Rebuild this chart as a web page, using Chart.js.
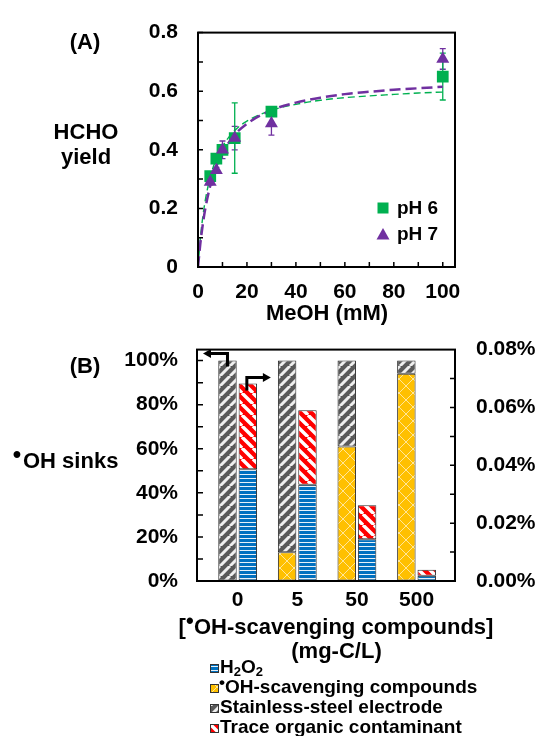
<!DOCTYPE html>
<html><head><meta charset="utf-8">
<script src="https://cdn.jsdelivr.net/npm/chart.js@4.4.1/dist/chart.umd.min.js"></script>
<style>
html,body{margin:0;padding:0;background:#fff;}
#wrap{position:relative;width:541px;height:736px;overflow:hidden;}
canvas{position:absolute;left:0;}
#cA{top:0;}
#cB{top:316px;}
</style></head><body>
<div id="wrap"><canvas id="cA" width="541" height="336"></canvas><canvas id="cB" width="541" height="420"></canvas></div>
<script>
// ---------- Panel A data ----------
const meohX = [5, 7.5, 10, 15, 30, 100];
const ph6Yield = [0.31, 0.37, 0.40, 0.44, 0.53, 0.65];
const ph6Err = [0.015, 0.01, 0.01, 0.12, 0.01, 0.08];
const ph7Yield = [0.29, 0.33, 0.40, 0.44, 0.49, 0.71];
const ph7Err = [0.01, 0.01, 0.03, 0.04, 0.04, 0.035];
const fitX = [0, 1, 2, 3, 5, 7.5, 10, 15, 20, 30, 40, 50, 60, 70, 80, 90, 100];
const ph6Fit = [0, 0.101, 0.174, 0.229, 0.307, 0.370, 0.412, 0.466, 0.498, 0.535, 0.555, 0.569, 0.578, 0.584, 0.589, 0.594, 0.597];
const ph7Fit = [0, 0.083, 0.148, 0.200, 0.277, 0.343, 0.389, 0.451, 0.489, 0.535, 0.561, 0.578, 0.590, 0.598, 0.605, 0.610, 0.615];
const xTicksA = [0, 20, 40, 60, 80, 100];
const yTicksA = [0, 0.2, 0.4, 0.6, 0.8];

// ---------- Panel B data ----------
const scavCategories = ['0', '5', '50', '500'];
const scavengerShare = [0, 13, 61, 94];      // % (left axis)
const steelShare = [100, 87, 39, 6];         // % (left axis)
const h2o2Share = [0.0386, 0.0333, 0.0144, 0.0018];   // % (right axis)
const traceShare = [0.0297, 0.0257, 0.0118, 0.0021];  // % (right axis)
const leftTicksB = [0, 20, 40, 60, 80, 100];
const rightTicksB = [0, 0.02, 0.04, 0.06, 0.08];

const FONT = "'Liberation Sans', Arial, Helvetica, sans-serif";
Chart.defaults.font.family = FONT;
Chart.defaults.font.weight = 'bold';
Chart.defaults.color = '#000';
const GREEN = '#00B050', PURPLE = '#7030A0';

function txt(ctx, s, x, y, size, align, base) {
  ctx.font = 'bold ' + size + 'px ' + FONT;
  ctx.textAlign = align || 'center';
  ctx.textBaseline = base || 'middle';
  ctx.fillStyle = '#000';
  ctx.fillText(s, x, y);
}

// ---------- patterns ----------
function makeTile(w, h, draw) {
  const c = document.createElement('canvas'); c.width = w; c.height = h;
  const g = c.getContext('2d'); draw(g, w, h);
  return document.createElement('canvas').getContext('2d').createPattern(c, 'repeat');
}
function stripes(bg, fg, size, lw, dir) {
  return makeTile(size, size, (g, w) => {
    g.fillStyle = bg; g.fillRect(0, 0, w, w);
    g.strokeStyle = fg; g.lineWidth = lw;
    g.beginPath();
    for (const k of [-w, 0, w]) {
      if (dir === '/') { g.moveTo(k, w); g.lineTo(k + w, 0); }
      else { g.moveTo(k, 0); g.lineTo(k + w, w); }
    }
    g.stroke();
  });
}
const patSteel = stripes('#595959', 'rgba(255,255,255,0.9)', 10, 3, '/');
const patTrace = stripes('#ff0000', '#ffffff', 11, 3.4, '\\');
const patH2O2 = makeTile(6, 4, (g, w, h) => {
  g.fillStyle = '#0070c0'; g.fillRect(0, 0, w, h);
  g.fillStyle = 'rgba(255,255,255,0.9)'; g.fillRect(0, 2, w, 1);
});
const patScav = makeTile(14, 14, (g, w) => {
  g.fillStyle = '#ffc000'; g.fillRect(0, 0, w, w);
  g.strokeStyle = 'rgba(255,255,255,0.6)'; g.lineWidth = 1;
  g.beginPath();
  for (const k of [-w, 0, w]) { g.moveTo(k, w); g.lineTo(k + w, 0); g.moveTo(k, 0); g.lineTo(k + w, w); }
  g.stroke();
});

// ---------- Panel A ----------
const panelAPlugin = {
  id: 'panelA',
  beforeDatasetsDraw(chart) {
    const { ctx, scales: { x, y } } = chart;
    chart.data.datasets.forEach(ds => {
      if (!ds.errs) return;
      ctx.save(); ctx.strokeStyle = ds.backgroundColor; ctx.lineWidth = 1.3;
      ds.data.forEach((p, i) => {
        const px = x.getPixelForValue(p.x);
        const t = y.getPixelForValue(p.y + ds.errs[i]), b = y.getPixelForValue(p.y - ds.errs[i]);
        ctx.beginPath();
        ctx.moveTo(px, t); ctx.lineTo(px, b);
        ctx.moveTo(px - 3, t); ctx.lineTo(px + 3, t);
        ctx.moveTo(px - 3, b); ctx.lineTo(px + 3, b);
        ctx.stroke();
      });
      ctx.restore();
    });
  },
  afterDraw(chart) {
    const { ctx, chartArea: a, scales: { x, y } } = chart;
    ctx.save();
    ctx.strokeStyle = '#000'; ctx.lineWidth = 2;
    ctx.strokeRect(a.left, a.top, a.right - a.left, a.bottom - a.top);
    ctx.lineWidth = 1.5;
    ctx.beginPath();
    for (let v = 10; v <= 100; v += 10) { const px = x.getPixelForValue(v); ctx.moveTo(px, a.bottom); ctx.lineTo(px, a.bottom - 5); }
    for (let v = 0.1; v < 0.8; v += 0.1) { const py = y.getPixelForValue(v); ctx.moveTo(a.left, py); ctx.lineTo(a.left + 5, py); }
    ctx.stroke();
    txt(ctx, '(A)', 85, 43, 22);
    txt(ctx, 'HCHO', 86, 133, 22);
    txt(ctx, 'yield', 86, 158, 22);
    txt(ctx, 'MeOH (mM)', 327, 314, 22);
    // legend
    ctx.fillStyle = GREEN; ctx.fillRect(377.5, 202.5, 11, 11);
    ctx.fillStyle = PURPLE; ctx.beginPath(); ctx.moveTo(383, 228); ctx.lineTo(389.5, 239.5); ctx.lineTo(376.5, 239.5); ctx.closePath(); ctx.fill();
    txt(ctx, 'pH 6', 397, 209, 19, 'left');
    txt(ctx, 'pH 7', 397, 235, 19, 'left');
    ctx.restore();
  }
};

new Chart(document.getElementById('cA'), {
  type: 'scatter',
  data: {
    datasets: [
      { label: 'pH 7', data: meohX.map((x, i) => ({ x, y: ph7Yield[i] })), pointStyle: 'triangle', pointRadius: 7.5,
        backgroundColor: PURPLE, borderColor: PURPLE, borderWidth: 0, order: 0, errs: ph7Err },
      { label: 'pH 6', data: meohX.map((x, i) => ({ x, y: ph6Yield[i] })), pointStyle: 'rect', pointRadius: 8.3,
        backgroundColor: GREEN, borderColor: GREEN, borderWidth: 0, order: 1, errs: ph6Err },
      { label: 'pH 7 fit', data: fitX.map((x, i) => ({ x, y: ph7Fit[i] })), showLine: true, pointRadius: 0,
        borderColor: PURPLE, backgroundColor: PURPLE, borderWidth: 2.5, borderDash: [11, 5], cubicInterpolationMode: 'monotone', order: 2 },
      { label: 'pH 6 fit', data: fitX.map((x, i) => ({ x, y: ph6Fit[i] })), showLine: true, pointRadius: 0,
        borderColor: GREEN, backgroundColor: GREEN, borderWidth: 1.4, borderDash: [7, 4], cubicInterpolationMode: 'monotone', order: 3 }
    ]
  },
  options: {
    responsive: false, animation: false,
    layout: { padding: { left: 0, right: 86, top: 24, bottom: 0 } },
    plugins: { legend: { display: false }, tooltip: { enabled: false } },
    scales: {
      x: {
        type: 'linear', min: 0, max: 105,
        afterBuildTicks: s => { s.ticks = xTicksA.map(v => ({ value: v })); },
        afterFit: s => { s.height = 336 - 267; },
        grid: { display: true, drawOnChartArea: false, drawTicks: false },
        border: { display: false },
        ticks: { padding: 13, maxRotation: 0, color: '#000', font: { size: 21, weight: 'bold' } }
      },
      y: {
        min: 0, max: 0.8,
        afterBuildTicks: s => { s.ticks = yTicksA.map(v => ({ value: v })); },
        afterFit: s => { s.width = 198; },
        grid: { display: true, drawOnChartArea: false, drawTicks: false },
        border: { display: false },
        ticks: { padding: 20, color: '#000', font: { size: 21, weight: 'bold' } }
      }
    }
  },
  plugins: [panelAPlugin]
});

// ---------- Panel B ----------
function arrowHead(ctx, tipX, tipY, dir) {
  ctx.beginPath();
  ctx.moveTo(tipX, tipY);
  ctx.lineTo(tipX - dir * 8, tipY - 4.5);
  ctx.lineTo(tipX - dir * 8, tipY + 4.5);
  ctx.closePath(); ctx.fill();
}
function legendBox(ctx, x, y, pat) {
  ctx.fillStyle = pat; ctx.fillRect(x, y, 8, 8);
  ctx.strokeStyle = '#333'; ctx.lineWidth = 1; ctx.strokeRect(x + 0.5, y + 0.5, 8, 8);
}
const panelBPlugin = {
  id: 'panelB',
  afterDraw(chart) {
    const { ctx, chartArea: a, scales: { y, y2 } } = chart;
    ctx.save();
    ctx.strokeStyle = '#000'; ctx.lineWidth = 2;
    ctx.strokeRect(a.left, a.top, a.right - a.left, a.bottom - a.top);
    ctx.lineWidth = 1.5;
    ctx.beginPath();
    for (let v = 10; v <= 100; v += 10) { const py = y.getPixelForValue(v); ctx.moveTo(a.left, py); ctx.lineTo(a.left + 6, py); }
    for (let v = 0.01; v < 0.08; v += 0.01) { const py = y2.getPixelForValue(v); ctx.moveTo(a.right, py); ctx.lineTo(a.right - 5, py); }
    ctx.stroke();

    // arrows pointing to the axis each bar group is read on
    const steelBar = chart.getDatasetMeta(1).data[0];
    const traceBar = chart.getDatasetMeta(3).data[0];
    ctx.strokeStyle = '#000'; ctx.fillStyle = '#000'; ctx.lineWidth = 3; ctx.lineJoin = 'miter';
    let bx = steelBar.x, by = steelBar.y;
    ctx.beginPath(); ctx.moveTo(bx, by + 6); ctx.lineTo(bx, by - 7); ctx.lineTo(a.left + 12, by - 7); ctx.stroke();
    arrowHead(ctx, a.left + 6, by - 7, -1);
    bx = traceBar.x - 1; by = traceBar.y;
    ctx.beginPath(); ctx.moveTo(bx, by + 7); ctx.lineTo(bx, by - 6); ctx.lineTo(bx + 17, by - 6); ctx.stroke();
    arrowHead(ctx, bx + 24, by - 6, 1);

    // texts
    txt(ctx, '(B)', 85, 367 - 316, 22);
    txt(ctx, '•', 17, 456 - 316 - 1, 24);
    txt(ctx, 'OH sinks', 23, 462 - 316, 22, 'left');
    ctx.font = 'bold 22px ' + FONT;
    const p1 = '[', p3 = 'OH-scavenging compounds]';
    const w1 = ctx.measureText(p1).width, w3 = ctx.measureText(p3).width, w2 = 8;
    let sx = 336 - (w1 + w2 + w3) / 2, ty = 628 - 316;
    txt(ctx, p1, sx, ty, 22, 'left');
    txt(ctx, '•', sx + w1 + w2 / 2, ty - 6, 22, 'center');
    txt(ctx, p3, sx + w1 + w2, ty, 22, 'left');
    txt(ctx, '(mg-C/L)', 336.5, 652 - 316, 22);

    // legend
    const lx = 210, tx = 220;
    const rows = [668, 688, 708, 728].map(v => v - 316);
    legendBox(ctx, lx, rows[0] - 4, patH2O2);
    ctx.font = 'bold 19px ' + FONT;
    let cx = tx;
    txt(ctx, 'H', cx, rows[0], 19, 'left'); cx += ctx.measureText('H').width;
    txt(ctx, '2', cx, rows[0] + 4, 13, 'left'); ctx.font = 'bold 13px ' + FONT; cx += ctx.measureText('2').width;
    txt(ctx, 'O', cx, rows[0], 19, 'left'); ctx.font = 'bold 19px ' + FONT; cx += ctx.measureText('O').width;
    txt(ctx, '2', cx, rows[0] + 4, 13, 'left');
    legendBox(ctx, lx, rows[1] - 4, patScav);
    txt(ctx, '•', tx + 2, rows[1] - 5, 17, 'center');
    txt(ctx, 'OH-scavenging compounds', tx + 5, rows[1], 19, 'left');
    legendBox(ctx, lx, rows[2] - 4, patSteel);
    txt(ctx, 'Stainless-steel electrode', tx, rows[2], 19, 'left');
    legendBox(ctx, lx, rows[3] - 4, patTrace);
    txt(ctx, 'Trace organic contaminant', tx, rows[3], 19, 'left');
    ctx.restore();
  }
};

const idx = scavCategories.map((c, i) => i);
new Chart(document.getElementById('cB'), {
  type: 'bar',
  data: {
    datasets: [
      { label: '•OH-scavenging compounds', data: idx.map(i => ({ x: i, y: scavengerShare[i] })), backgroundColor: patScav, stack: 'L', yAxisID: 'y' },
      { label: 'Stainless-steel electrode', data: idx.map(i => ({ x: i, y: steelShare[i] })), backgroundColor: patSteel, stack: 'L', yAxisID: 'y' },
      { label: 'H2O2', data: idx.map(i => ({ x: i, y: h2o2Share[i] })), backgroundColor: patH2O2, stack: 'R', yAxisID: 'y2' },
      { label: 'Trace organic contaminant', data: idx.map(i => ({ x: i, y: traceShare[i] })), backgroundColor: patTrace, stack: 'R', yAxisID: 'y2' }
    ]
  },
  options: {
    responsive: false, animation: false,
    datasets: { bar: { categoryPercentage: 0.683, barPercentage: 0.906, borderWidth: 1, borderColor: '#2a2a2a', borderSkipped: false } },
    layout: { padding: { left: 0, right: 0, top: 25, bottom: 0 } },
    plugins: { legend: { display: false }, tooltip: { enabled: false } },
    scales: {
      x: {
        type: 'linear', min: -0.682, max: 3.645, offset: false, stacked: true,
        afterBuildTicks: s => { s.ticks = idx.map(v => ({ value: v })); },
        afterFit: s => { s.height = 420 - 265; },
        grid: { display: true, drawOnChartArea: false, drawTicks: false },
        border: { display: false },
        ticks: { padding: 7, maxRotation: 0, color: '#000', font: { size: 21, weight: 'bold' },
                 callback: v => scavCategories[v] }
      },
      y: {
        position: 'left', min: 0, max: 105, stacked: true,
        afterBuildTicks: s => { s.ticks = leftTicksB.map(v => ({ value: v })); },
        afterFit: s => { s.width = 197; },
        grid: { display: true, drawOnChartArea: false, drawTicks: false },
        border: { display: false },
        ticks: { padding: 19, color: '#000', font: { size: 21, weight: 'bold' }, callback: v => v + '%' }
      },
      y2: {
        position: 'right', min: 0, max: 0.08, stacked: true,
        afterBuildTicks: s => { s.ticks = rightTicksB.map(v => ({ value: v })); },
        afterFit: s => { s.width = 86; },
        grid: { display: true, drawOnChartArea: false, drawTicks: false },
        border: { display: false },
        ticks: { padding: 21, color: '#000', font: { size: 21, weight: 'bold' }, callback: v => v.toFixed(2) + '%' }
      }
    }
  },
  plugins: [panelBPlugin]
});
</script>
</body></html>
